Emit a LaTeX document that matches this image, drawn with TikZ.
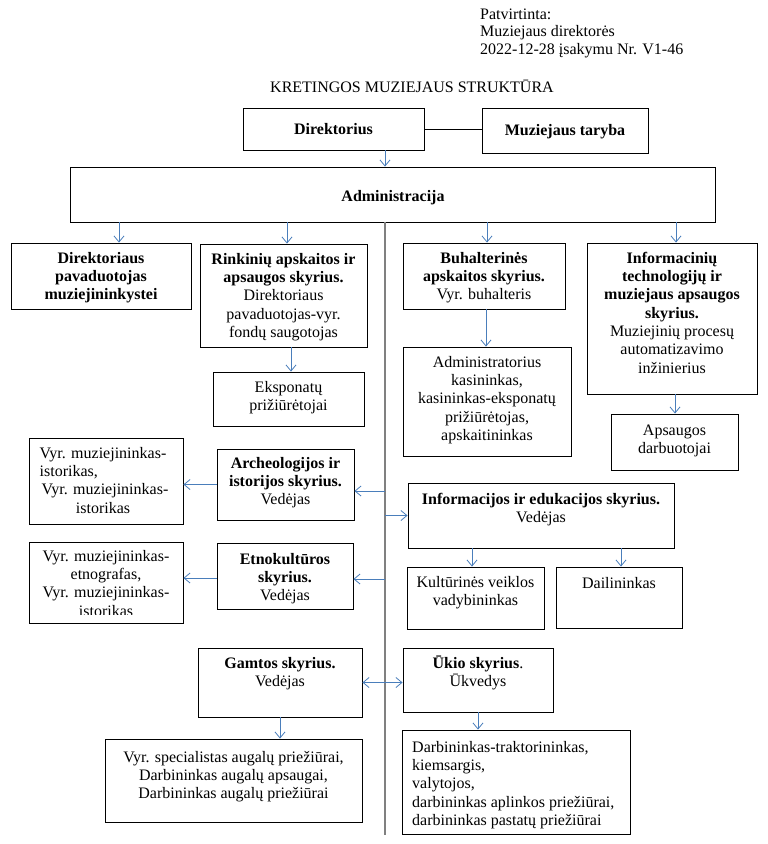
\documentclass[tikz,border=0pt]{standalone}
\usepackage{fontspec}
\setmainfont{Liberation Serif}
\usetikzlibrary{arrows.meta,fit}
\definecolor{conblue}{RGB}{74,126,187}
\definecolor{vgrey}{RGB}{128,128,128}
\newcommand\fst{\rule{0pt}{14pt}}
\begin{document}
\begin{tikzpicture}[x=1pt,y=-1pt,
  bx/.style={draw, line width=0.9pt, inner sep=0pt},
  tx/.style={inner sep=0pt, align=center, font=\fontsize{16}{18.3}\selectfont},
  arr/.style={draw=conblue, line width=0.8pt, -{Straight Barb[length=6pt,width=10pt]}},
  arrtwo/.style={draw=conblue, line width=0.8pt, {Straight Barb[length=6pt,width=10pt]}-{Straight Barb[length=6pt,width=10pt]}},
  vline/.style={draw=vgrey, line width=2pt}]
\useasboundingbox (0,0) rectangle (768,844);

% header and title
\node[tx, align=left, anchor=north west, font=\fontsize{16}{17.7}\selectfont] (hdr) at (480,5)
  {\fst Patvirtinta:\\ Muziejaus direktorės\\ 2022-12-28 įsakymu Nr. V1-46};
\node[tx, anchor=base] (title) at (412,92) {KRETINGOS MUZIEJAUS STRUKTŪRA};

% top boxes
\node[bx, fit={(243,108) (424,150)}] (dir) {};
\node[tx, anchor=base] (dirT) at (333.5,134) {\textbf{Direktorius}};
\node[bx, fit={(482,108) (648,153)}] (tar) {};
\node[tx, anchor=base] (tarT) at (565,135.5) {\textbf{Muziejaus taryba}};
\node[bx, fit={(70,167) (715,222)}] (adm) {};
\node[tx, anchor=base] (admT) at (393,201) {\textbf{Administracija}};

% row 1
\node[bx, fit={(11,243) (191,309)}] (dpav) {};
\node[tx, anchor=north] (dpavT) at (101,249)
  {\fst\textbf{Direktoriaus}\\ \textbf{pavaduotojas}\\ \textbf{muziejininkystei}};
\node[bx, fit={(200,244) (367,347)}] (rink) {};
\node[tx, anchor=north] (rinkT) at (283.5,250)
  {\fst\textbf{Rinkinių apskaitos ir}\\ \textbf{apsaugos skyrius.}\\ Direktoriaus\\ pavaduotojas-vyr.\\ fondų saugotojas};
\node[bx, fit={(403,243) (565,309)}] (buh) {};
\node[tx, anchor=north] (buhT) at (484,249)
  {\fst\textbf{Buhalterinės}\\ \textbf{apskaitos skyrius.}\\ Vyr. buhalteris};
\node[bx, fit={(587,243) (757,394)}] (inf) {};
\node[tx, anchor=north] (infT) at (672,249)
  {\fst\textbf{Informacinių}\\ \textbf{technologijų ir}\\ \textbf{muziejaus apsaugos}\\ \textbf{skyrius.}\\ Muziejinių procesų\\ automatizavimo\\ inžinierius};

% row 2
\node[bx, fit={(213,372) (364,426)}] (eksp) {};
\node[tx, anchor=north] (ekspT) at (288.5,378) {\fst Eksponatų\\ prižiūrėtojai};
\node[bx, fit={(403,347) (571,456)}] (admn) {};
\node[tx, anchor=north] (admnT) at (487,353)
  {\fst Administratorius\\ kasininkas,\\ kasininkas-eksponatų\\ prižiūrėtojas,\\ apskaitininkas};
\node[bx, fit={(611,414) (738,470)}] (aps) {};
\node[tx, anchor=north] (apsT) at (674.5,421) {\fst Apsaugos\\ darbuotojai};

% archeology
\node[bx, fit={(29,438) (183,524)}] (istL) {};
\node[tx, anchor=north] (istLT) at (103,444)
  {\fst Vyr. muziejininkas-\\ \rlap{istorikas,}\phantom{Vyr. muziejininkas-}\\ \ Vyr. muziejininkas-\\ istorikas};
\node[bx, fit={(217,449) (354,520)}] (arch) {};
\node[tx, anchor=north] (archT) at (285.5,454)
  {\fst\textbf{Archeologijos ir}\\ \textbf{istorijos skyrius.}\\ Vedėjas};

% education
\node[bx, fit={(408,483) (674,548)}] (ied) {};
\node[tx, anchor=north] (iedT) at (541,490)
  {\fst\textbf{Informacijos ir edukacijos skyrius.}\\ Vedėjas};
\node[bx, fit={(407,567) (544,629)}] (kult) {};
\node[tx, anchor=north] (kultT) at (475.5,573) {\fst Kultūrinės veiklos\\ vadybininkas};
\node[bx, fit={(556,567) (682,628)}] (dail) {};
\node[tx, anchor=north] (dailT) at (619,574) {\fst Dailininkas};

% ethnoculture
\begin{scope}
\clip (29,542) rectangle (183,614);
\node[tx, anchor=north] (etnLT) at (106,547)
  {\fst Vyr. muziejininkas-\\ etnografas,\\ Vyr. muziejininkas-\\ istorikas};
\end{scope}
\node[bx, fit={(29,542) (183,623)}] (etnL) {};
\node[bx, fit={(217,543) (353,609)}] (etn) {};
\node[tx, anchor=north] (etnT) at (285,550)
  {\fst\textbf{Etnokultūros}\\ \textbf{skyrius.}\\ Vedėjas};

% nature and household
\node[bx, fit={(198,648) (362,717)}] (gam) {};
\node[tx, anchor=north] (gamT) at (280,654) {\fst\textbf{Gamtos skyrius.}\\ Vedėjas};
\node[bx, fit={(105,739) (362,822)}] (spec) {};
\node[tx, anchor=north] (specT) at (233.5,748)
  {\fst Vyr. specialistas augalų priežiūrai,\\ Darbininkas augalų apsaugai,\\ Darbininkas augalų priežiūrai};
\node[bx, fit={(403,648) (553,712)}] (ukio) {};
\node[tx, anchor=north] (ukioT) at (478,654) {\fst\textbf{Ūkio skyrius}.\\ Ūkvedys};
\node[bx, fit={(402,730) (630,834)}] (darb) {};
\node[tx, align=left, anchor=north west] (darbT) at (412,738)
  {\fst Darbininkas-traktorininkas,\\ kiemsargis,\\ valytojos,\\ darbininkas aplinkos priežiūrai,\\ darbininkas pastatų priežiūrai};

% central line
\coordinate (vb) at (385,835);
\draw[vline] (vb |- adm.south) -- (vb);

% connectors
\draw[line width=0.9pt] (dir.east) -- (dir.east -| tar.west);
\draw[arr] (vb |- dir.south) -- (vb |- adm.north);
\draw[arr] ([xshift=18]dpav.north |- adm.south) -- ([xshift=18]dpav.north);
\draw[arr] ([xshift=3.5]rink.north |- adm.south) -- ([xshift=3.5]rink.north);
\draw[arr] ([xshift=3]buh.north |- adm.south) -- ([xshift=3]buh.north);
\draw[arr] ([xshift=4]inf.north |- adm.south) -- ([xshift=4]inf.north);
\draw[arr] ([xshift=7.5]rink.south) -- ([xshift=7.5]rink.south |- eksp.north);
\draw[arr] ([xshift=2]buh.south) -- ([xshift=2]buh.south |- admn.north);
\draw[arr] ([xshift=3]inf.south) -- ([xshift=3]inf.south |- aps.north);
\draw[arr] ([yshift=-6.5]arch.east -| vb) -- ([yshift=-6.5]arch.east);
\draw[arr] (arch.west) -- (arch.west -| istL.east);
\draw[arr] (ied.west -| vb) -- (ied.west);
\draw[arr] ([yshift=-3]etn.east -| vb) -- ([yshift=-3]etn.east);
\draw[arr] ([yshift=-2]etn.west) -- ([yshift=-2]etn.west -| etnL.east);
\draw[arr] ([xshift=-3.5]kult.north |- ied.south) -- ([xshift=-3.5]kult.north);
\draw[arr] ([xshift=2]dail.north |- ied.south) -- ([xshift=2]dail.north);
\draw[arrtwo] (gam.east) -- (gam.east -| ukio.west);
\draw[arr] (gam.south) -- (gam.south |- spec.north);
\draw[arr] (ukio.south) -- (ukio.south |- darb.north);
\end{tikzpicture}
\end{document}
